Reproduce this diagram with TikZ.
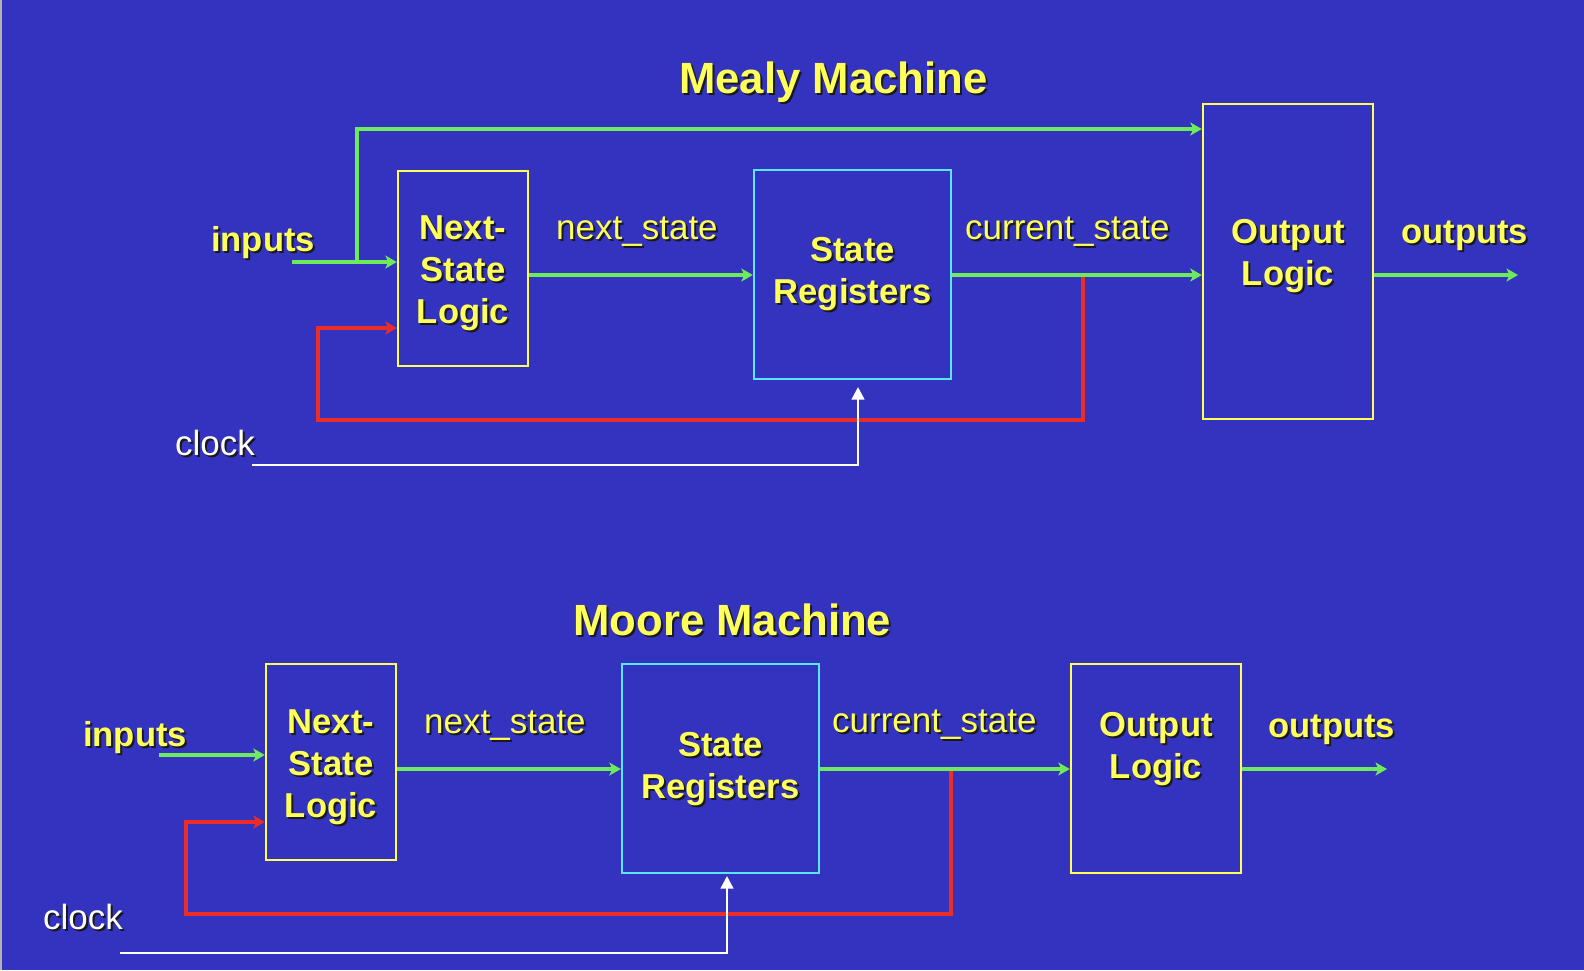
\documentclass[tikz,border=0pt]{standalone}
\usepackage{fontspec}
\setmainfont{Liberation Sans}
\usetikzlibrary{arrows.meta}
\definecolor{bg}{RGB}{51,51,192}
\definecolor{yel}{RGB}{255,255,90}
\definecolor{grn}{RGB}{110,235,90}
\definecolor{cyn}{RGB}{90,230,255}
\definecolor{rd}{RGB}{235,45,40}
\newcommand\shtext[4]{%
  \node[#2, text=black!90] at ([shift={(2,2)}]#3) {#4};
  \node[#2] (#1) at (#3) {#4};}
\begin{document}
\begin{tikzpicture}[x=1pt,y=-1pt,
  ybox/.style={draw=yel, line width=2.4pt, inner sep=0},
  cbox/.style={draw=cyn, line width=2.4pt, inner sep=0},
  blbl/.style={font=\fontsize{34.6}{42}\selectfont\bfseries, text=yel, inner sep=0, align=center},
  bword/.style={font=\fontsize{34.6}{42}\selectfont\bfseries, text=yel, inner sep=0, anchor=base west},
  rlbl/.style={font=\fontsize{35}{42}\selectfont, text=yel, inner sep=0, anchor=base west},
  ttl/.style={font=\fontsize{43.7}{50}\selectfont\bfseries, text=yel, inner sep=0, anchor=base west},
  clk/.style={font=\fontsize{35}{42}\selectfont, text=white, inner sep=0, anchor=base west},
  garrow/.style={draw=grn, line width=3.2pt, -{Stealth[length=11.5pt,width=13pt,inset=3pt]}},
  rarrow/.style={draw=rd, line width=3.2pt, -{Stealth[length=11.5pt,width=13pt,inset=3pt]}},
  warrow/.style={draw=white, line width=2.4pt, -{Triangle[length=12.5pt,width=12.5pt]}}]
\useasboundingbox (0,0) rectangle (1584,970);
\fill[bg] (0,0) rectangle (1584,970);
\draw[gray!60, line width=1.5pt] (0.75,0) -- (0.75,970);

% ---------------- Mealy ----------------
\shtext{t1}{ttl}{679,93}{Mealy Machine}
\node[ybox, minimum width=130pt, minimum height=195pt] (nsl1) at (463,268.5) {};
\node[cbox, minimum width=197pt, minimum height=209pt] (sr1) at (852.5,274.5) {};
\node[ybox, minimum width=170pt, minimum height=315pt] (ol1) at (1288,261.5) {};
\shtext{nsl1t}{blbl}{463,273.3}{Next-\\State\\Logic}
\shtext{sr1t}{blbl}{852.5,274}{State\\Registers}
\shtext{ol1t}{blbl}{1288,256}{Output\\Logic}
\shtext{in1t}{bword}{211,251}{inputs}
\shtext{ns1t}{rlbl}{556,239}{next\_state}
\shtext{cs1t}{rlbl}{965,239}{current\_state}
\shtext{out1t}{bword}{1401,243}{outputs}
\shtext{clk1t}{clk}{175,455}{clock}

\coordinate (l1) at (0,275);
\coordinate (in1) at (292,262);
\coordinate (br1) at (357,262);
\coordinate (top1) at (0,129);
\coordinate (out1) at (1518,275);
\coordinate (fb1) at (1083,275);
\coordinate (fbl1) at (318,420);
\coordinate (fbin1) at (0,328);
\coordinate (clk1) at (252,465);
\coordinate (clkt1) at (858,387);

\draw[rarrow] (fb1) |- (fbl1) |- (nsl1.west |- fbin1);
\draw[warrow] (clk1) -| (clkt1);
\draw[garrow] (in1) -- (nsl1.west |- in1);
\draw[garrow] (br1) |- (ol1.west |- top1);
\draw[garrow] (nsl1.east |- l1) -- (sr1.west |- l1);
\draw[garrow] (sr1.east |- l1) -- (ol1.west |- l1);
\draw[garrow] (ol1.east |- l1) -- (out1);

% ---------------- Moore ----------------
\shtext{t2}{ttl}{573,635}{Moore Machine}
\node[ybox, minimum width=130pt, minimum height=196pt] (nsl2) at (331,762) {};
\node[cbox, minimum width=197pt, minimum height=209pt] (sr2) at (720.5,768.5) {};
\node[ybox, minimum width=170pt, minimum height=209pt] (ol2) at (1156,768.5) {};
\shtext{nsl2t}{blbl}{331,767.3}{Next-\\State\\Logic}
\shtext{sr2t}{blbl}{720.5,769}{State\\Registers}
\shtext{ol2t}{blbl}{1156,749}{Output\\Logic}
\shtext{in2t}{bword}{83,746}{inputs}
\shtext{ns2t}{rlbl}{424,733}{next\_state}
\shtext{cs2t}{rlbl}{832,732}{current\_state}
\shtext{out2t}{bword}{1268,737}{outputs}
\shtext{clk2t}{clk}{43,929}{clock}

\coordinate (l2) at (0,769);
\coordinate (in2) at (159,755);
\coordinate (out2) at (1387,769);
\coordinate (fb2) at (951,769);
\coordinate (fbl2) at (186,914);
\coordinate (fbin2) at (0,822);
\coordinate (clk2) at (120,953);
\coordinate (clkt2) at (727,876);

\draw[rarrow] (fb2) |- (fbl2) |- (nsl2.west |- fbin2);
\draw[warrow] (clk2) -| (clkt2);
\draw[garrow] (in2) -- (nsl2.west |- in2);
\draw[garrow] (nsl2.east |- l2) -- (sr2.west |- l2);
\draw[garrow] (sr2.east |- l2) -- (ol2.west |- l2);
\draw[garrow] (ol2.east |- l2) -- (out2);
\end{tikzpicture}
\end{document}
